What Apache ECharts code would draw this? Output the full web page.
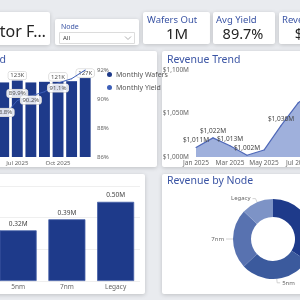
<!DOCTYPE html>
<html>
<head>
<meta charset="utf-8">
<script src="https://cdn.jsdelivr.net/npm/echarts@6/dist/echarts.min.js"></script>
<style>
  html, body { margin: 0; padding: 0; background: #e9ebef; overflow: hidden; }
  #dash { width: 300px; height: 300px; }
</style>
</head>
<body>
<div id="dash"></div>
<script>
// monthly wafers + yield
const months = ['Jan 2025', 'Feb 2025', 'Mar 2025', 'Apr 2025', 'May 2025', 'Jun 2025',
  'Jul 2025', 'Aug 2025', 'Sep 2025', 'Oct 2025', 'Nov 2025', 'Dec 2025']
const monthlyWafers = [118000, 120000, 117000, 122000, 119000, 120000, 123000, 120000, 121000, 121000, 122000, 127000]
const monthlyYield = [87.9, 88.3, 88.6, 88.7, 89.0, 88.8, 89.9, 90.2, 90.5, 91.1, 91.4, 92.0]
const barLabelMonths = ['Jan 2025', 'Apr 2025', 'Jul 2025', 'Oct 2025', 'Dec 2025']
const yieldLabelMonths = ['Jun 2025', 'Jul 2025', 'Aug 2025', 'Oct 2025']

// revenue trend ($M)
const revenue = [1011, 1022, 1013, 1002, 1008, 1036, 1062, 1078, 1071, 1089, 1084, 1097]
const revenueLabelMonths = ['Jan 2025', 'Feb 2025', 'Mar 2025', 'Apr 2025', 'Jun 2025']

// by node
const nodes = ['3nm', '5nm', '7nm', 'Legacy']
const nodeWafers = [0.22, 0.32, 0.39, 0.50]
const nodeRevenue = [34, 29, 24, 13]
const nodeColors = ['#1e3a8a', '#3b5a9d', '#5872b0', '#7d93c6']

const FONT = '"Noto Sans", "DejaVu Sans", sans-serif'
const NAVY = '#1e3a8a'
const TITLE = '#3a54a4'
const SMALL = 6.5

const card = (x, y, w, h) => ({
  type: 'rect', z: 0,
  shape: { x: x, y: y, width: w, height: h, r: 2 },
  style: { fill: '#fff', shadowBlur: 4, shadowColor: 'rgba(0,0,0,0.18)', shadowOffsetY: 1 }
})
const txt = (t, x, y, size, color, align) => ({
  type: 'text', z: 10,
  style: {
    text: t, x: x, y: y, fill: color, textAlign: align || 'left', textVerticalAlign: 'middle',
    font: size + 'px ' + FONT
  }
})

const boxLabel = {
  fontSize: 6, color: '#555', fontFamily: FONT,
  backgroundColor: 'rgba(255,255,255,0.85)', borderColor: '#c8c8c8', borderWidth: 0.5,
  borderRadius: 2, padding: [1, 2]
}

// nudges for the yield labels so they sit like the reference
const yieldLabelDy = { 'Jun 2025': -4, 'Jul 2025': -7, 'Aug 2025': 4, 'Oct 2025': 5 }

const option = {
  backgroundColor: '#e9ebef',
  animation: false,
  textStyle: { fontFamily: FONT },
  graphic: [
    card(-10, 12, 60, 33),
    card(55, 19, 84, 26),
    card(143, 12, 67, 32),
    card(213, 12, 62, 32),
    card(279, 12, 70, 32),
    card(-10, 51, 167, 116),
    card(162, 51, 150, 116),
    card(-10, 174, 155, 120),
    card(162, 174, 150, 120),
    txt('Semiconductor F…', 46, 32, 16, '#252525', 'right'),
    txt('Node', 61, 27, 7, TITLE),
    { type: 'rect', z: 10, shape: { x: 59.5, y: 32.5, width: 75, height: 11 }, style: { fill: '#fff', stroke: '#dcdcdc', lineWidth: 1 } },
    txt('All', 63, 38.5, 6, '#333'),
    { type: 'polyline', z: 11, shape: { points: [[125, 36.5], [128, 39.5], [131, 36.5]] }, style: { stroke: '#999', lineWidth: 0.8, fill: null } },
    txt('Wafers Out', 147, 20, 9.5, TITLE),
    txt('1M', 177, 35, 15, '#252525', 'center'),
    txt('Avg Yield', 216, 20, 9.5, TITLE),
    txt('89.7%', 243, 35, 14.5, '#252525', 'center'),
    txt('Revenue', 282, 20, 9.5, TITLE),
    txt('$12B', 312, 35, 14.5, '#252525', 'center'),
    txt('Wafer Output & Yield', 6, 60, 10.5, TITLE, 'right'),
    txt('Revenue Trend', 167, 60, 10.5, TITLE),
    txt('Revenue by Node', 167, 181, 10.5, TITLE)
  ],
  legend: {
    left: 102, top: 66, orient: 'vertical', itemGap: 6,
    icon: 'circle', itemWidth: 5, itemHeight: 5,
    textStyle: { fontSize: 7, color: '#555', padding: [0, 0, 0, -1] },
    data: ['Monthly Wafers', 'Monthly Yield']
  },
  grid: [
    { left: -71, top: 70, width: 163, height: 87, outerBoundsMode: 'none' },
    { left: 196, top: 70, width: 187, height: 87, outerBoundsMode: 'none' },
    { left: -55, top: 186, width: 195, height: 95, outerBoundsMode: 'none' }
  ],
  xAxis: [
    {
      gridIndex: 0, type: 'category', data: months,
      axisLine: { show: false }, axisTick: { show: false },
      axisLabel: { interval: 2, fontSize: 6, color: '#666', margin: 3 }
    },
    {
      gridIndex: 1, type: 'category', data: months, boundaryGap: false,
      axisLine: { show: false }, axisTick: { show: false },
      axisLabel: { interval: 1, fontSize: SMALL, color: '#666', margin: 3 }
    },
    {
      gridIndex: 2, type: 'category', data: nodes,
      axisLine: { show: false }, axisTick: { show: false },
      axisLabel: { fontSize: SMALL, color: '#666', margin: 3 }
    }
  ],
  yAxis: [
    { gridIndex: 0, type: 'value', min: 0, max: 140000, show: false },
    {
      gridIndex: 0, type: 'value', position: 'right', min: 86, max: 92, interval: 2,
      axisLine: { show: false }, axisTick: { show: false }, splitLine: { show: false },
      axisLabel: { formatter: '{value}%', fontSize: 6, color: '#666', margin: 5 }
    },
    {
      gridIndex: 1, type: 'value', min: 1000, max: 1100, interval: 50,
      axisLine: { show: false }, axisTick: { show: false }, splitLine: { show: false },
      axisLabel: { formatter: v => '$' + v.toLocaleString('en-US') + 'M', fontSize: SMALL, color: '#666', margin: 7 }
    },
    {
      gridIndex: 2, type: 'value', min: 0, max: 0.6, interval: 0.2,
      axisLine: { show: false }, axisTick: { show: false },
      splitLine: { lineStyle: { color: '#efefef' } },
      axisLabel: { show: false }
    }
  ],
  series: [
    {
      name: 'Monthly Wafers', type: 'bar', xAxisIndex: 0, yAxisIndex: 0,
      data: monthlyWafers.map((v, i) => ({ value: v, label: { show: barLabelMonths.includes(months[i]) } })),
      barWidth: '80%', itemStyle: { color: NAVY },
      label: Object.assign({ show: false, position: 'top', distance: 1, formatter: p => Math.round(p.value / 1000) + 'K' }, boxLabel)
    },
    {
      name: 'Monthly Yield', type: 'line', xAxisIndex: 0, yAxisIndex: 1,
      data: monthlyYield.map((v, i) => ({
        value: v,
        label: { show: yieldLabelMonths.includes(months[i]), offset: [0, yieldLabelDy[months[i]] || 0] }
      })),
      symbol: 'circle', symbolSize: 1,
      lineStyle: { color: '#3d5fb8', width: 1 }, itemStyle: { color: '#3d5fb8' },
      label: Object.assign({ show: false, position: 'inside', formatter: p => p.value.toFixed(1) + '%' }, boxLabel),
      z: 5
    },
    {
      name: 'Revenue', type: 'line', xAxisIndex: 1, yAxisIndex: 2,
      data: revenue.map((v, i) => ({ value: v, label: { show: revenueLabelMonths.includes(months[i]) } })),
      symbol: 'circle', symbolSize: 1,
      lineStyle: { color: '#4f68b8', width: 1.2 }, itemStyle: { color: '#4f68b8' },
      areaStyle: { color: '#9fb0dc', opacity: 1 },
      label: { show: false, position: 'top', distance: 3, fontSize: SMALL, color: '#444', formatter: p => '$' + p.value.toLocaleString('en-US') + 'M' }
    },
    {
      name: 'Wafers by Node', type: 'bar', xAxisIndex: 2, yAxisIndex: 3,
      data: nodeWafers, barWidth: '76%',
      itemStyle: { color: NAVY, borderColor: '#4661a8', borderWidth: 0.8 },
      label: { show: true, position: 'top', distance: 3, fontSize: SMALL, color: '#444', formatter: p => p.value.toFixed(2) + 'M' }
    },
    {
      name: 'Revenue by Node', type: 'pie',
      left: 0, top: 0, width: 400, height: 400,
      center: [273, 239], radius: [22, 40],
      startAngle: 90, clockwise: true, minShowLabelAngle: 0,
      data: nodes.map((n, i) => ({ name: n, value: nodeRevenue[i], itemStyle: { color: nodeColors[i] } })),
      label: {
        show: true, position: 'outside', fontSize: 6, color: '#666', formatter: '{b}',
        alignTo: 'labelLine', edgeDistance: 0, bleedMargin: 0, distanceToLabelLine: 2
      },
      labelLine: { show: true, length: 4, length2: 3, minTurnAngle: 0, lineStyle: { color: '#c8c8c8', width: 0.8 } }
    }
  ]
}

const myChart = echarts.init(document.getElementById('dash'))
myChart.setOption(option)
</script>
</body>
</html>
